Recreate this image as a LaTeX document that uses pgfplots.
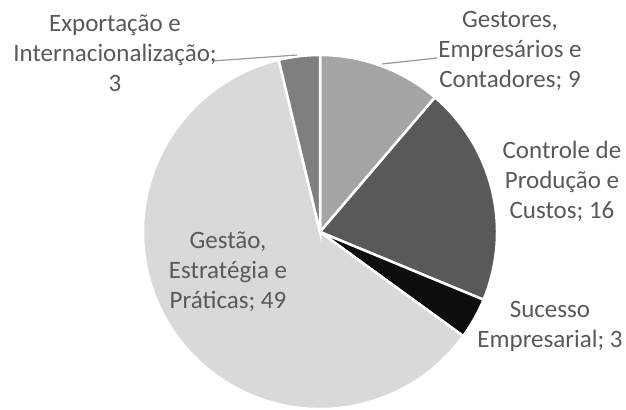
\documentclass[border=0pt]{standalone}
\usepackage{pgfplots}
\pgfplotsset{compat=1.18}
\usepackage{fontspec}
\setmainfont{Carlito}
\definecolor{txt}{HTML}{595959}
\definecolor{cA}{HTML}{A5A5A5}
\definecolor{cB}{HTML}{595959}
\definecolor{cC}{HTML}{0D0D0D}
\definecolor{cD}{HTML}{D9D9D9}
\definecolor{cE}{HTML}{7F7F7F}
\definecolor{lead}{HTML}{999999}
% values (clockwise from 12 o'clock)
\def\vA{9}  % Gestores, Empresarios e Contadores
\def\vB{16} % Controle de Producao e Custos
\def\vC{3}  % Sucesso Empresarial
\def\vD{49} % Gestao, Estrategia e Praticas
\def\vE{3}  % Exportacao e Internacionalizacao
\pgfmathsetmacro\tot{\vA+\vB+\vC+\vD+\vE}
\pgfmathsetmacro\k{360/\tot}
\pgfmathsetmacro\aA{90}
\pgfmathsetmacro\aB{\aA-\k*\vA}
\pgfmathsetmacro\aC{\aB-\k*\vB}
\pgfmathsetmacro\aD{\aC-\k*\vC}
\pgfmathsetmacro\aE{\aD-\k*\vD}
\pgfmathsetmacro\aF{\aE-\k*\vE}
\begin{document}
\begin{tikzpicture}
\begin{axis}[
  width=626bp, height=410bp, scale only axis,
  xmin=0, xmax=626, ymin=0, ymax=410,
  hide axis, clip=false, anchor=origin, at={(0,0)},
  font=\fontsize{25bp}{30bp}\selectfont,
]
\def\cx{320}\def\cy{178}\def\R{177bp}
\fill[cA, draw=white, line width=2.5bp] (axis cs:\cx,\cy) -- ++(\aA:\R) arc[start angle=\aA, end angle=\aB, radius=\R] -- cycle;
\fill[cB, draw=white, line width=2.5bp] (axis cs:\cx,\cy) -- ++(\aB:\R) arc[start angle=\aB, end angle=\aC, radius=\R] -- cycle;
\fill[cC, draw=white, line width=2.5bp] (axis cs:\cx,\cy) -- ++(\aC:\R) arc[start angle=\aC, end angle=\aD, radius=\R] -- cycle;
\fill[cD, draw=white, line width=2.5bp] (axis cs:\cx,\cy) -- ++(\aD:\R) arc[start angle=\aD, end angle=\aE, radius=\R] -- cycle;
\fill[cE, draw=white, line width=2.5bp] (axis cs:\cx,\cy) -- ++(\aE:\R) arc[start angle=\aE, end angle=\aF, radius=\R] -- cycle;
% leader lines
\draw[lead, line width=1.2bp] (axis cs:212,349) -- (axis cs:297,355);
\draw[lead, line width=1.2bp] (axis cs:382,346) -- (axis cs:437,352);
% labels
\node[txt, align=center, inner sep=0pt] at (axis cs:115,357) {Exportação e\\Internacionalização;\\3};
\node[txt, align=center, inner sep=0pt] at (axis cs:510,359) {Gestores,\\Empresários e\\Contadores; 9};
\node[txt, align=center, inner sep=0pt] at (axis cs:562,229) {Controle de\\Produção e\\Custos; 16};
\node[txt, align=center, inner sep=0pt] at (axis cs:550,84) {Sucesso\\Empresarial; 3};
\node[txt, align=center, inner sep=0pt] at (axis cs:228,138) {Gestão,\\Estratégia e\\Práticas; 49};
\end{axis}
\pgfresetboundingbox
\path[use as bounding box] (0,0) rectangle (626bp,410bp);
\end{tikzpicture}
\end{document}
